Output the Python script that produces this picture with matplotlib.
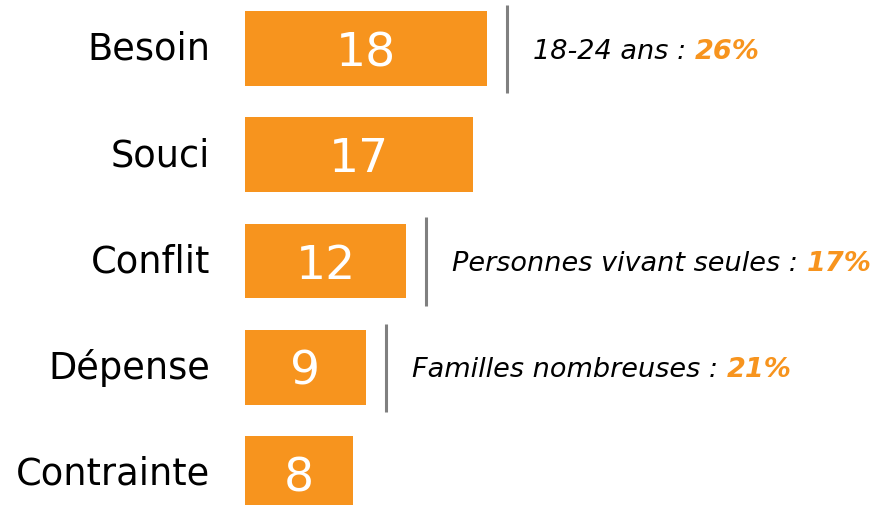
import matplotlib.pyplot as plt

categories = ["Besoin", "Souci", "Conflit", "Dépense", "Contrainte"]
values = [18, 17, 12, 9, 8]
note_rows = ["Besoin", "Conflit", "Dépense"]
note_texts = ["18-24 ans : ", "Personnes vivant seules : ", "Familles nombreuses : "]
note_pcts = ["26%", "17%", "21%"]

orange = "#F7941E"

fig = plt.figure(figsize=(8.81, 5.06), dpi=100)
ax = fig.add_axes([0, 0, 1, 1])

ypos = list(range(len(categories)))
ax.barh(ypos, values, height=0.705, color=orange)

# x: 0 at 245px, ~13.44 px per unit ; y: rows ~106.25 px apart
ax.set_xlim(-245 / 13.44, (881 - 245) / 13.44)
ax.set_ylim((506 - 49.5) / 106.25, -49.5 / 106.25)
ax.axis("off")

for y, cat, v in zip(ypos, categories, values):
    ax.text(-35 / 13.44, y, cat, ha="right", va="center", fontsize=26.5, color="black")
    ax.text(v / 2, y + 0.04, str(v), ha="center", va="center", fontsize=34, color="white")

for row, txt, pct in zip(note_rows, note_texts, note_pcts):
    y = categories.index(row)
    v = values[y]
    lx = v + 20 / 13.44
    ax.plot([lx, lx], [y - 0.41, y + 0.42], color="#808080", lw=2.2, solid_capstyle="butt")
    t1 = ax.text(lx + 26 / 13.44, y + 0.02, txt, ha="left", va="center",
                 fontsize=19.5, style="italic", color="black")
    ax.annotate(pct, xy=(1, 0), xycoords=t1, ha="left", va="bottom",
                fontsize=19.5, style="italic", weight="bold", color=orange)

fig.savefig("out.png", dpi=100)
